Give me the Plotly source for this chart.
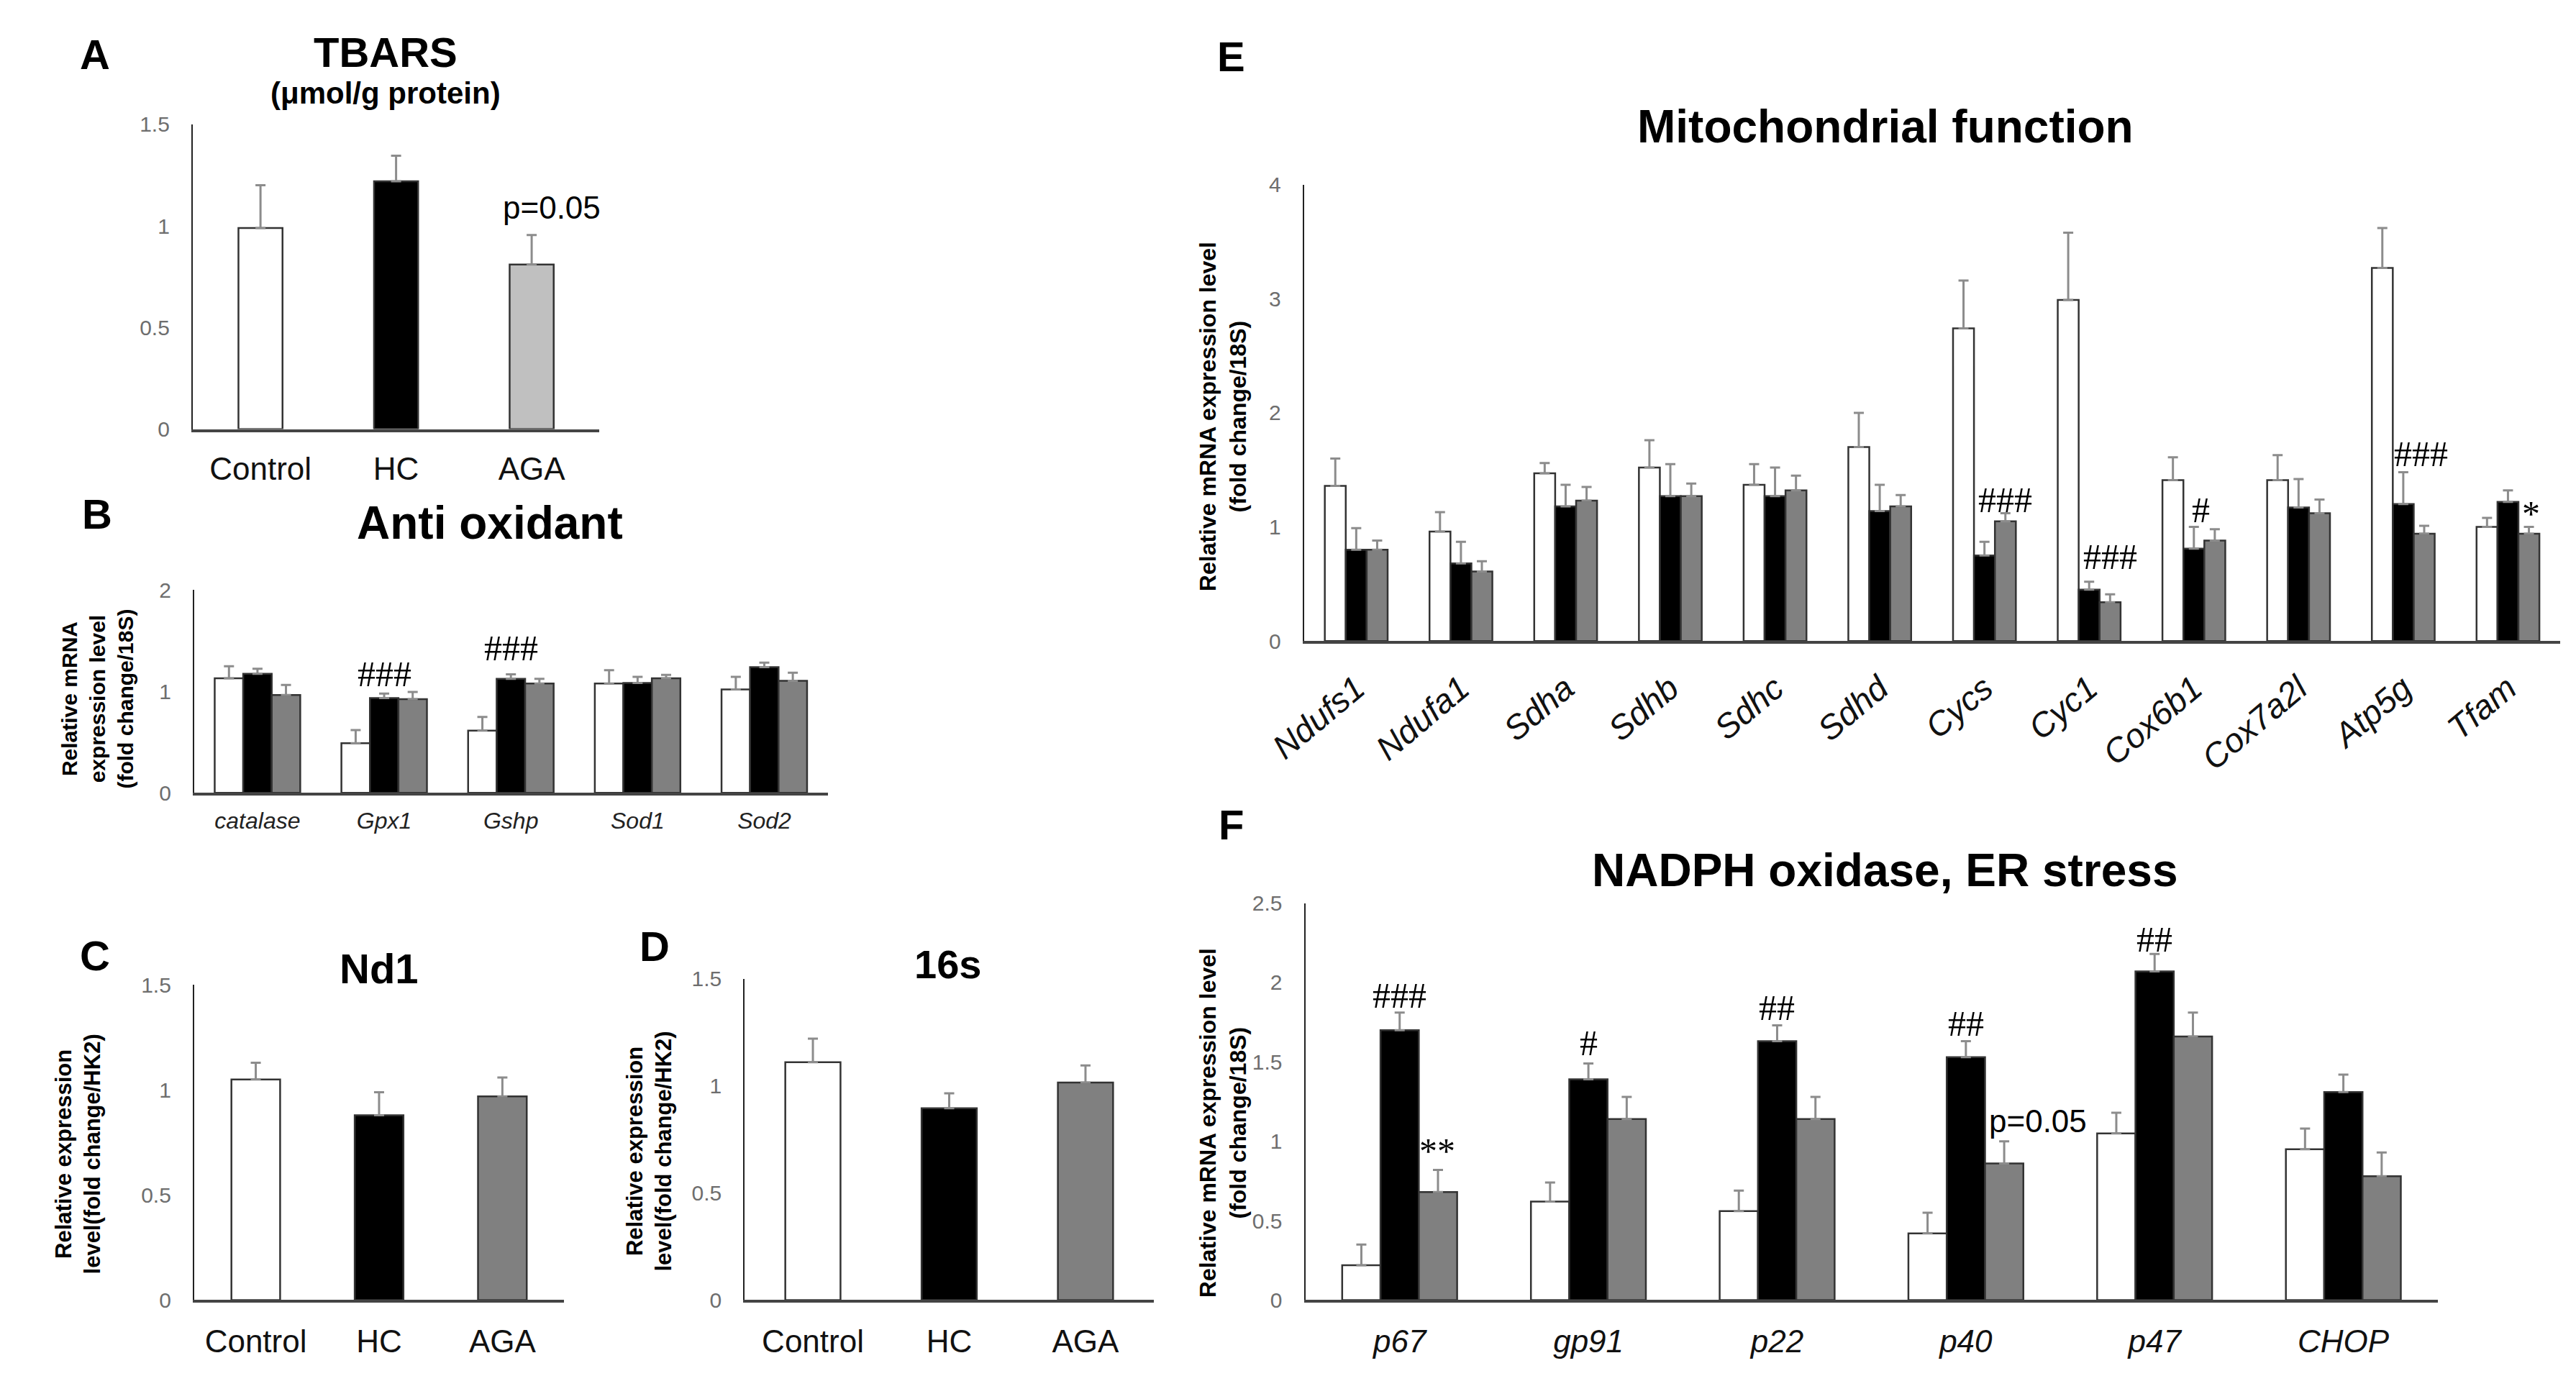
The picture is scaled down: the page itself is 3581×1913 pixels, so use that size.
import plotly.graph_objects as go

# figure size (the page adds an 8 px body margin around it)
W, H = 3565, 1897


def px_x(p):
    return (p - 8) / W


def px_y(p):
    return 1 - (p - 8) / H


# ---------------- data ----------------
groups = ["Control", "HC", "AGA"]

tbars_mean = [0.99, 1.22, 0.81]
tbars_se = [0.21, 0.125, 0.145]

anti_genes = ["catalase", "Gpx1", "Gshp", "Sod1", "Sod2"]
anti_ctrl = [1.13, 0.49, 0.615, 1.08, 1.02]
anti_ctrl_se = [0.12, 0.13, 0.135, 0.13, 0.125]
anti_hc = [1.175, 0.935, 1.125, 1.085, 1.24]
anti_hc_se = [0.05, 0.045, 0.045, 0.06, 0.045]
anti_aga = [0.965, 0.925, 1.08, 1.13, 1.105]
anti_aga_se = [0.10, 0.07, 0.045, 0.035, 0.08]

nd1_mean = [1.05, 0.88, 0.97]
nd1_se = [0.08, 0.11, 0.09]

s16_mean = [1.11, 0.895, 1.015]
s16_se = [0.11, 0.07, 0.08]

mito_genes = ["Ndufs1", "Ndufa1", "Sdha", "Sdhb", "Sdhc", "Sdhd",
              "Cycs", "Cyc1", "Cox6b1", "Cox7a2l", "Atp5g", "Tfam"]
mito_ctrl = [1.36, 0.96, 1.47, 1.52, 1.37, 1.70, 2.74, 2.99, 1.41, 1.41, 3.27, 1.00]
mito_ctrl_se = [0.24, 0.17, 0.09, 0.24, 0.18, 0.30, 0.42, 0.59, 0.20, 0.22, 0.35, 0.08]
mito_hc = [0.80, 0.68, 1.18, 1.27, 1.27, 1.14, 0.75, 0.45, 0.81, 1.17, 1.20, 1.22]
mito_hc_se = [0.19, 0.19, 0.19, 0.28, 0.25, 0.23, 0.12, 0.07, 0.19, 0.25, 0.28, 0.10]
mito_aga = [0.80, 0.61, 1.23, 1.27, 1.32, 1.18, 1.05, 0.34, 0.88, 1.12, 0.94, 0.94]
mito_aga_se = [0.08, 0.09, 0.12, 0.11, 0.13, 0.10, 0.07, 0.07, 0.10, 0.12, 0.07, 0.06]

nox_genes = ["p67", "gp91", "p22", "p40", "p47", "CHOP"]
nox_ctrl = [0.22, 0.62, 0.56, 0.42, 1.05, 0.95]
nox_ctrl_se = [0.13, 0.12, 0.13, 0.13, 0.13, 0.13]
nox_hc = [1.70, 1.39, 1.63, 1.53, 2.07, 1.31]
nox_hc_se = [0.11, 0.10, 0.10, 0.10, 0.11, 0.11]
nox_aga = [0.68, 1.14, 1.14, 0.86, 1.66, 0.78]
nox_aga_se = [0.14, 0.14, 0.14, 0.14, 0.15, 0.15]

# significance marks: (axis, x position in category units, y, text)
marks = [
    ("", 2.15, 1.09, "p=0.05"),
    ("2", 1.0, 1.17, "###"),
    ("2", 2.0, 1.43, "###"),
    ("5", 6.2, 1.24, "###"),
    ("5", 7.2, 0.74, "###"),
    ("5", 8.07, 1.15, "#"),
    ("5", 10.17, 1.64, "###"),
    ("5", 11.22, 1.12, "*"),
    ("6", 0.0, 1.92, "###"),
    ("6", 0.2, 0.94, "**"),
    ("6", 1.0, 1.62, "#"),
    ("6", 2.0, 1.84, "##"),
    ("6", 3.0, 1.74, "##"),
    ("6", 3.38, 1.13, "p=0.05"),
    ("6", 4.0, 2.27, "##"),
]

SANS = "Liberation Sans, Arial, Helvetica, sans-serif"
SERIF = "Liberation Serif, Times New Roman, serif"
WHITE, BLACK, GRAY, LIGHT = "#ffffff", "#000000", "#808080", "#c0c0c0"
ERR = dict(type="data", symmetric=False, color="#8c8c8c", thickness=3, width=7)
OUTLINE = dict(color="#333333", width=2.5)

fig = go.Figure()


def single(ax, means, ses, colors, w):
    fig.add_trace(go.Bar(
        x=groups, y=means, width=w,
        marker=dict(color=colors, line=OUTLINE),
        error_y=dict(ERR, array=ses, arrayminus=[0] * len(means)),
        xaxis="x" + ax, yaxis="y" + ax, showlegend=False))


def grouped(ax, cats, series, w):
    colors = [WHITE, BLACK, GRAY]
    for i, (vals, ses) in enumerate(series):
        fig.add_trace(go.Bar(
            x=cats, y=vals, width=w, offset=-1.5 * w + i * w,
            marker=dict(color=colors[i], line=OUTLINE),
            error_y=dict(ERR, array=ses, arrayminus=[0] * len(vals)),
            xaxis="x" + ax, yaxis="y" + ax, showlegend=False))


single("", tbars_mean, tbars_se, [WHITE, BLACK, LIGHT], 0.325)
grouped("2", anti_genes, [(anti_ctrl, anti_ctrl_se), (anti_hc, anti_hc_se),
                          (anti_aga, anti_aga_se)], 0.225)
single("3", nd1_mean, nd1_se, [WHITE, BLACK, GRAY], 0.395)
single("4", s16_mean, s16_se, [WHITE, BLACK, GRAY], 0.405)
grouped("5", mito_genes, [(mito_ctrl, mito_ctrl_se), (mito_hc, mito_hc_se),
                          (mito_aga, mito_aga_se)], 0.2)
grouped("6", nox_genes, [(nox_ctrl, nox_ctrl_se), (nox_hc, nox_hc_se),
                         (nox_aga, nox_aga_se)], 0.203)

# axis boxes in page pixels: x0, x1, y(0), y(top), ymax, tick step, n categories
boxes = {
    "": (218, 792, 590, 158.5, 1.5, 0.5, len(groups)),
    "2": (220, 1114, 1105, 818, 2, 1, len(anti_genes)),
    "3": (220, 742, 1823, 1377, 1.5, 0.5, len(groups)),
    "4": (997, 1574, 1823, 1368, 1.5, 0.5, len(groups)),
    "5": (1786, 3559, 890, 244, 4, 1, len(mito_genes)),
    "6": (1788, 3386, 1823, 1261, 2.5, 0.5, len(nox_genes)),
}
xfont = {
    "": dict(size=44, color="#111"),
    "2": dict(size=32, color="#222", style="italic"),
    "3": dict(size=44, color="#111"),
    "4": dict(size=44, color="#111"),
    "5": dict(size=47, color="#111", style="italic"),
    "6": dict(size=44, color="#111", style="italic"),
}
xstand = {"": 14, "2": 8, "3": 16, "4": 16, "5": 16, "6": 16}

layout_axes = {}
for ax, (x0, x1, y0, y1, ymax, step, n) in boxes.items():
    layout_axes["xaxis" + ax] = dict(
        domain=[px_x(x0), px_x(x1)], anchor="y" + ax, type="category",
        range=[-0.5, n - 0.5], showline=True, linecolor="#444", linewidth=3.5,
        ticks="", showgrid=False, zeroline=False, fixedrange=True,
        tickfont=dict(family=SANS, **xfont[ax]), ticklabelstandoff=xstand[ax],
        tickangle=-40 if ax == "5" else 0)
    ticks = [round(i * step, 2) for i in range(int(round(ymax / step)) + 1)]
    layout_axes["yaxis" + ax] = dict(
        domain=[px_y(y0), px_y(y1)], anchor="x" + ax, range=[0, ymax],
        tickvals=ticks, showline=True, linecolor="#222", linewidth=2,
        ticks="", showgrid=False, zeroline=False, fixedrange=True,
        tickfont=dict(family=SANS, size=30, color="#6e6e6e"),
        ticklabelstandoff=24)

ann = []


def text(x, y, s, size, bold=True, angle=0, family=SANS):
    ann.append(dict(x=px_x(x), y=px_y(y), xref="paper", yref="paper",
                    text="<b>%s</b>" % s if bold else s, showarrow=False,
                    textangle=angle, xanchor="center", yanchor="middle",
                    font=dict(family=family, size=size, color="#000")))


# panel letters
for letter, x, y in [("A", 80, 59), ("B", 83, 710), ("C", 80, 1335),
                     ("D", 870, 1322), ("E", 1683, 62), ("F", 1683, 1150)]:
    text(x, y, letter, 58)

# panel titles
text(490, 56, "TBARS", 58)
text(490, 114, "(μmol/g protein)", 42)
text(637, 723, "Anti oxidant", 64)
text(481, 1354, "Nd1", 58)
text(1283, 1347, "16s", 56)
text(2607, 162, "Mitochondrial function", 64)
text(2606, 1215, "NADPH oxidase, ER stress", 64)

# y axis titles
text(84, 972, "Relative mRNA<br>expression level<br>(fold change/18S)", 30, angle=-90)
text(56, 1616, "Relative expression<br>level(fold change/HK2)", 31, angle=-90)
text(862, 1612, "Relative expression<br>level(fold change/HK2)", 31, angle=-90)
text(1672, 572, "Relative mRNA expression level<br>(fold change/18S)", 32, angle=-90)
text(1672, 1572, "Relative mRNA expression level<br>(fold change/18S)", 32, angle=-90)

for ax, x, y, s in marks:
    is_p = s.startswith("p")
    ann.append(dict(x=x, y=y, xref="x" + ax, yref="y" + ax, text=s,
                    showarrow=False, xanchor="center", yanchor="middle",
                    font=dict(family=SANS if is_p else SERIF,
                              size=44 if is_p else 50, color="#000")))

fig.update_layout(
    width=W, height=H, margin=dict(l=0, r=0, t=0, b=0),
    paper_bgcolor="white", plot_bgcolor="white",
    barmode="overlay", showlegend=False, annotations=ann,
    font=dict(family=SANS, color="#000"),
    **layout_axes)

fig.write_html("out.html")
